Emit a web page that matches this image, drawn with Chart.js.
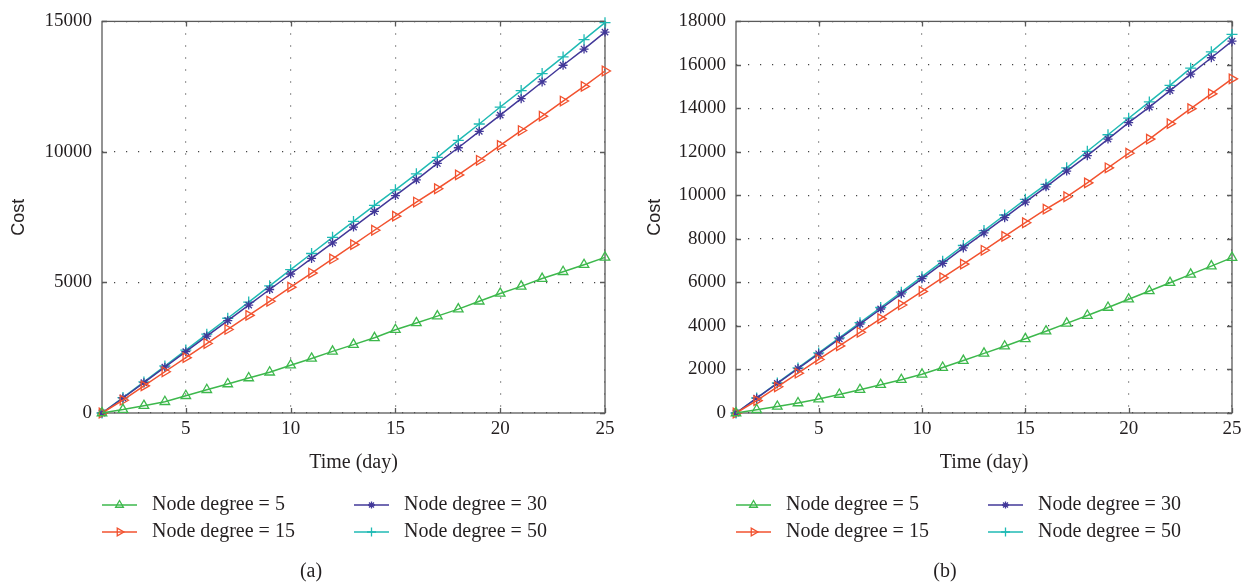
<!DOCTYPE html>
<html>
<head>
<meta charset="utf-8">
<title>Cost vs time</title>
<script src="https://cdn.jsdelivr.net/npm/chart.js@4.4.1/dist/chart.umd.min.js"></script>
<style>
  html, body { margin: 0; padding: 0; background: #fff; }
  .panel { position: absolute; top: 0; height: 586px; }
  #panelA { left: 0; width: 626px; }
  #panelB { left: 626px; width: 627px; }
</style>
</head>
<body>
<div class="panel" id="panelA"><canvas id="chartA"></canvas></div>
<div class="panel" id="panelB"><canvas id="chartB"></canvas></div>
<script>
// ===== Data =====
const days = [1, 2, 3, 4, 5, 6, 7, 8, 9, 10, 11, 12, 13, 14, 15, 16, 17, 18, 19, 20, 21, 22, 23, 24, 25];
const xTicks = [5, 10, 15, 20, 25];

// (a)
const costA5 = [0, 130, 280, 430, 660, 890, 1110, 1340, 1560, 1830, 2090, 2360, 2620, 2880, 3190, 3450, 3710, 3980, 4280, 4580, 4850, 5150, 5410, 5680, 5960];
const costA15 = [0, 490, 1040, 1580, 2120, 2660, 3200, 3740, 4280, 4820, 5360, 5900, 6450, 7000, 7540, 8080, 8590, 9120, 9680, 10250, 10820, 11370, 11950, 12510, 13100];
const costA30 = [0, 575, 1160, 1755, 2350, 2945, 3540, 4135, 4730, 5325, 5920, 6520, 7120, 7720, 8330, 8930, 9560, 10160, 10790, 11410, 12040, 12680, 13320, 13940, 14590];
const costA50 = [0, 590, 1190, 1800, 2410, 3020, 3630, 4250, 4870, 5490, 6110, 6730, 7340, 7950, 8550, 9160, 9790, 10440, 11070, 11720, 12350, 13000, 13640, 14300, 14950];
const yTicksA = [0, 5000, 10000, 15000];

// (b)
const costB5 = [0, 150, 300, 460, 640, 850, 1070, 1300, 1530, 1780, 2090, 2410, 2740, 3070, 3410, 3760, 4120, 4480, 4850, 5230, 5610, 5990, 6370, 6750, 7140];
const costB15 = [0, 570, 1205, 1830, 2460, 3085, 3710, 4340, 4965, 5590, 6220, 6845, 7480, 8120, 8745, 9370, 9940, 10580, 11270, 11940, 12590, 13300, 13990, 14670, 15360];
const costB30 = [0, 680, 1360, 2040, 2720, 3405, 4090, 4780, 5475, 6175, 6880, 7590, 8275, 8980, 9695, 10395, 11120, 11830, 12590, 13350, 14060, 14820, 15580, 16330, 17090];
const costB50 = [0, 690, 1380, 2070, 2760, 3455, 4150, 4850, 5555, 6265, 6980, 7700, 8385, 9100, 9820, 10510, 11270, 12030, 12790, 13550, 14300, 15060, 15850, 16600, 17400];
const yTicksB = [0, 2000, 4000, 6000, 8000, 10000, 12000, 14000, 16000, 18000];

const seriesLabels = ['Node degree = 5', 'Node degree = 15', 'Node degree = 30', 'Node degree = 50'];

// ===== Styles =====
const SERIES_STYLE = [
  { color: '#3db84c', pointStyle: 'triangle', rotation: 0, radius: 5.5 },
  { color: '#f2522f', pointStyle: 'triangle', rotation: 90, radius: 5.5 },
  { color: '#423899', pointStyle: 'star', rotation: 0, radius: 4.5 },
  { color: '#1fbab4', pointStyle: 'cross', rotation: 0, radius: 5.5 },
];

const SERIF = "'Liberation Serif', 'DejaVu Serif', serif";
const SANS = "'Liberation Sans', Arial, sans-serif";
const TEXT = '#231f20';
const AXIS = '#5a5a5a';

// box around the plot with small inward ticks on every side
const frameBox = {
  id: 'frameBox',
  beforeDatasetsDraw(chart) {
    const { ctx, chartArea: a, scales: { x, y } } = chart;
    const len = 5;
    ctx.save();
    ctx.strokeStyle = AXIS;
    ctx.lineWidth = 1.3;
    ctx.setLineDash([]);
    ctx.beginPath();
    x.ticks.forEach((t) => {
      const px = Math.round(x.getPixelForValue(t.value)) + 0.5;
      ctx.moveTo(px, a.bottom); ctx.lineTo(px, a.bottom - len);
      ctx.moveTo(px, a.top); ctx.lineTo(px, a.top + len);
    });
    y.ticks.forEach((t) => {
      const py = Math.round(y.getPixelForValue(t.value)) + 0.5;
      ctx.moveTo(a.left, py); ctx.lineTo(a.left + len, py);
      ctx.moveTo(a.right, py); ctx.lineTo(a.right - len, py);
    });
    ctx.stroke();
    ctx.strokeRect(a.left, a.top, a.right - a.left, a.bottom - a.top);
    ctx.restore();
  },
};

// two-column legend under the axis, plus the panel caption
const gridLegend = {
  id: 'gridLegend',
  afterDraw(chart, args, opts) {
    const { ctx, chartArea: a } = chart;
    const rows = [505, 532];
    const cols = [0, 252];
    ctx.save();
    ctx.font = '20px ' + SERIF;
    ctx.textBaseline = 'middle';
    chart.data.datasets.forEach((ds, i) => {
      const x0 = a.left + cols[Math.floor(i / 2)];
      const y0 = rows[i % 2];
      ctx.strokeStyle = ds.borderColor;
      ctx.lineWidth = 1.6;
      ctx.beginPath();
      ctx.moveTo(x0, y0);
      ctx.lineTo(x0 + 35, y0);
      ctx.stroke();
      ctx.fillStyle = 'rgba(0,0,0,0)';
      ctx.lineWidth = 1.3;
      Chart.helpers.drawPoint(ctx, {
        pointStyle: ds.pointStyle,
        rotation: ds.pointRotation,
        radius: ds.pointRadius - 1,
        borderWidth: 1.3,
      }, x0 + 17.5, y0);
      ctx.fillStyle = TEXT;
      ctx.textAlign = 'left';
      ctx.fillText(ds.label, x0 + 50, y0);
    });
    ctx.textAlign = 'center';
    ctx.fillText(opts.caption, a.left + 209, 572);
    ctx.restore();
  },
};

function makeDatasets(values) {
  return values.map((vals, i) => {
    const s = SERIES_STYLE[i];
    return {
      label: seriesLabels[i],
      data: days.map((d, k) => ({ x: d, y: vals[k] })),
      borderColor: s.color,
      backgroundColor: 'rgba(0,0,0,0)',
      borderWidth: 1.5,
      pointStyle: s.pointStyle,
      pointRotation: s.rotation,
      pointRadius: s.radius,
      pointBorderWidth: 1.3,
      pointBorderColor: s.color,
      pointBackgroundColor: 'rgba(0,0,0,0)',
      clip: false,
      tension: 0,
    };
  });
}

function makeChart(id, values, yTicks, axisWidth, titleGap, caption) {
  const ctx = document.getElementById(id).getContext('2d');
  return new Chart(ctx, {
    type: 'line',
    data: { datasets: makeDatasets(values) },
    plugins: [frameBox, gridLegend],
    options: {
      responsive: true,
      maintainAspectRatio: false,
      animation: false,
      devicePixelRatio: 1,
      layout: { padding: { top: 16, right: 21, bottom: 103, left: 0 } },
      scales: {
        x: {
          type: 'linear',
          min: 1,
          max: 25,
          afterBuildTicks: (scale) => { scale.ticks = xTicks.map((v) => ({ value: v })); },
          afterFit: (scale) => { scale.height = 70; },
          ticks: { color: TEXT, font: { family: SERIF, size: 19 }, padding: 5, maxRotation: 0, callback: (v) => String(v) },
          grid: { color: '#444', lineWidth: 1.2, drawTicks: false },
          border: { display: false, dash: [1.2, 10.8] },
          title: {
            display: true,
            text: 'Time (day)',
            color: TEXT,
            font: { family: SERIF, size: 20 },
            padding: { top: 0, bottom: 8 },
          },
        },
        y: {
          min: 0,
          max: yTicks[yTicks.length - 1],
          afterBuildTicks: (scale) => { scale.ticks = yTicks.map((v) => ({ value: v })); },
          afterFit: (scale) => { scale.width = axisWidth; },
          ticks: { color: TEXT, font: { family: SERIF, size: 19 }, padding: 10, callback: (v) => String(v) },
          grid: { color: '#444', lineWidth: 1.2, drawTicks: false },
          border: { display: false, dash: [1.2, 10.8] },
          title: {
            display: true,
            text: 'Cost',
            color: TEXT,
            font: { family: SANS, size: 18 },
            padding: { top: titleGap, bottom: 0 },
          },
        },
      },
      plugins: {
        legend: { display: false },
        tooltip: { enabled: false },
        gridLegend: { caption },
      },
    },
  });
}

makeChart('chartA', [costA5, costA15, costA30, costA50], yTicksA, 102, 8, '(a)');
makeChart('chartB', [costB5, costB15, costB30, costB50], yTicksB, 110, 18, '(b)');
</script>
</body>
</html>
